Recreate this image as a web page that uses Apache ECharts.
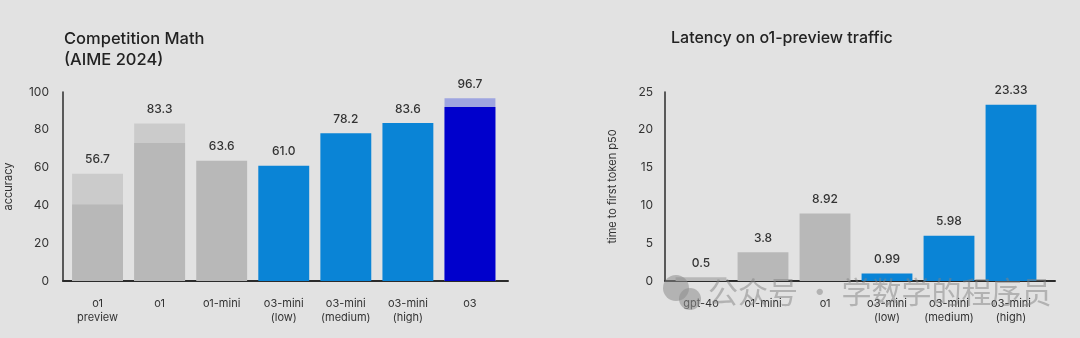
<!DOCTYPE html>
<html>
<head>
<meta charset="utf-8">
<script src="https://cdn.jsdelivr.net/npm/echarts@6/dist/echarts.min.js"></script>
<style>
html,body{margin:0;padding:0;background:#e2e2e2;}
#c{width:1080px;height:338px;}
</style>
</head>
<body>
<div id="c"></div>
<script>
// ---- data ----
const mathCategories = ['o1\npreview', 'o1', 'o1-mini', 'o3-mini\n(low)', 'o3-mini\n(medium)', 'o3-mini\n(high)', 'o3'];
const mathTotal = [56.7, 83.3, 63.6, 61.0, 78.2, 83.6, 96.7];
const mathBase = [40.5, 73.0, null, null, null, null, 92.0];
const mathTicks = [0, 20, 40, 60, 80, 100];

const latCategories = ['gpt-4o', 'o1-mini', 'o1', 'o3-mini\n(low)', 'o3-mini\n(medium)', 'o3-mini\n(high)'];
const latValues = [0.5, 3.8, 8.92, 0.99, 5.98, 23.33];
const latLabels = ['0.5', '3.8', '8.92', '0.99', '5.98', '23.33'];
const latTicks = [0, 5, 10, 15, 20, 25];

// ---- styles ----
const FONT = 'Inter, "Noto Sans", sans-serif';
const GREY = '#b8b8b8', GREY_LIGHT = '#cbcbcb', BLUE = '#0a84d6', NAVY = '#0000cc', NAVY_LIGHT = '#9ea5e0';
const mathTotalColors = [GREY_LIGHT, GREY_LIGHT, GREY, BLUE, BLUE, BLUE, NAVY_LIGHT];
const mathBaseColors = [GREY, GREY, GREY, BLUE, BLUE, BLUE, NAVY];
const latColors = [GREY, GREY, GREY, BLUE, BLUE, BLUE];

const chart = echarts.init(document.getElementById('c'));
const axisLineStyle = {show: true, lineStyle: {color: '#2b2b2b', width: 1.5}};
const xLineStyle = {show: true, lineStyle: {color: '#2b2b2b', width: 2}};
const TOP = 92, BOTTOM = 57;

function valueAxis(grid, max, interval, name, nameGap, margin, show) {
  return {
    type: 'value', gridIndex: grid, min: 0, max: max, interval: interval,
    show: show,
    name: name, nameLocation: 'middle', nameGap: nameGap, nameRotate: 90,
    nameTextStyle: {fontFamily: FONT, fontSize: 11, color: '#333'},
    axisLine: axisLineStyle, axisTick: {show: false}, splitLine: {show: false},
    axisLabel: {fontFamily: FONT, fontSize: 12, color: '#333', margin: margin}
  };
}
function catAxis(grid, cats, showLabels, showLine) {
  return {
    type: 'category', gridIndex: grid, data: cats,
    axisLine: showLine ? xLineStyle : {show: false},
    axisTick: {show: false},
    axisLabel: showLabels ? {fontFamily: FONT, fontSize: 11, color: '#333', margin: 16, lineHeight: 13.5, interval: 0} : {show: false}
  };
}

chart.setOption({
  backgroundColor: '#e2e2e2',
  animation: false,
  title: [
    {text: 'Competition Math\n(AIME 2024)', left: 59, top: 23,
     textStyle: {fontFamily: FONT, fontSize: 16.5, fontWeight: 500, color: '#222', lineHeight: 21.5}},
    {text: 'Latency on o1-preview traffic', left: 666, top: 25,
     textStyle: {fontFamily: FONT, fontSize: 16, fontWeight: 500, color: '#222'}}
  ],
  grid: [
    {left: 63, right: 1080 - 508, top: TOP, bottom: BOTTOM},   // 0 left axes
    {left: 66.5, right: 1080 - 501, top: TOP, bottom: BOTTOM}, // 1 left bars
    {left: 665, right: 1080 - 1055, top: TOP, bottom: BOTTOM}, // 2 right axes
    {left: 670, right: 1080 - 1042, top: TOP, bottom: BOTTOM}  // 3 right bars
  ],
  xAxis: [
    {type: 'value', gridIndex: 0, min: 0, max: 1, axisLine: xLineStyle, axisLabel: {show: false}, axisTick: {show: false}, splitLine: {show: false}},
    catAxis(1, mathCategories, true, false),
    {type: 'value', gridIndex: 2, min: 0, max: 1, axisLine: xLineStyle, axisLabel: {show: false}, axisTick: {show: false}, splitLine: {show: false}},
    catAxis(3, latCategories, true, false)
  ],
  yAxis: [
    valueAxis(0, 100, 20, 'accuracy', 49, 14, true),
    valueAxis(1, 100, 20, '', 0, 0, false),
    valueAxis(2, 25, 5, 'time to first token p50', 47, 12, true),
    valueAxis(3, 25, 5, '', 0, 0, false)
  ],
  series: [
    {
      type: 'bar', xAxisIndex: 1, yAxisIndex: 1, barCategoryGap: '18%',
      data: mathTotal.map((v, i) => ({value: v, itemStyle: {color: mathTotalColors[i]}})),
      label: {show: true, position: 'top', distance: 8, fontFamily: FONT, fontSize: 12, fontWeight: 500, color: '#333',
              formatter: p => p.value.toFixed(1)},
      z: 2
    },
    {
      type: 'bar', xAxisIndex: 1, yAxisIndex: 1, barGap: '-100%', barCategoryGap: '18%',
      data: mathBase.map((v, i) => ({value: v, itemStyle: {color: mathBaseColors[i]}})),
      z: 3
    },
    {
      type: 'bar', xAxisIndex: 3, yAxisIndex: 3, barCategoryGap: '18%',
      data: latValues.map((v, i) => ({value: v, itemStyle: {color: latColors[i]}})),
      label: {show: true, position: 'top', distance: 8, fontFamily: FONT, fontSize: 12, fontWeight: 500, color: '#333',
              formatter: p => latLabels[p.dataIndex]}
    }
  ],
  graphic: [
    {type: 'circle', shape: {cx: 676, cy: 288, r: 13}, style: {fill: 'rgba(140,140,140,0.55)'}, z: 100},
    {type: 'circle', shape: {cx: 690, cy: 299, r: 11}, style: {fill: 'rgba(140,140,140,0.55)'}, z: 100},
    {type: 'text', left: 708, top: 277, z: 100,
     style: {text: '公众号 · 学数学的程序员', font: '30px "Noto Sans CJK SC"', fill: 'rgba(130,130,130,0.5)'}}
  ]
});
</script>
</body>
</html>
